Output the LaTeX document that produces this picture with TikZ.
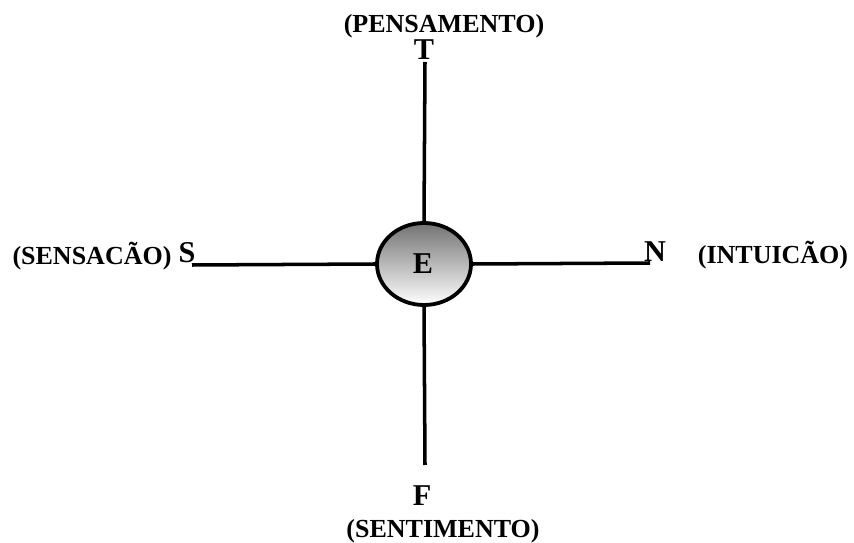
\documentclass[tikz,border=0pt]{standalone}
\usepackage{fontspec}
\setmainfont{Liberation Serif}
\usetikzlibrary{positioning, shapes.geometric}

\begin{document}
\begin{tikzpicture}[
    x=0.025cm, y=-0.025cm,
    ego/.style={
        ellipse, draw=black, line width=2.7pt,
        top color=black!55, bottom color=white,
        minimum width=2.35cm, minimum height=2.05cm,
        inner sep=0pt},
    pole/.style={
        anchor=base, inner sep=0pt, font=\fontsize{21.5}{23}\selectfont\bfseries},
    fname/.style={
        anchor=base, inner sep=0pt, font=\fontsize{18.5}{20}\selectfont\bfseries},
    axis/.style={line width=2.5pt}
]

%% ── Frame ───────────────────────────────────────────────────────
\useasboundingbox (0,0) rectangle (854,543);

%% ── Centre (ego) ────────────────────────────────────────────────
\node[ego] (e) at (424,264) {};
\node[pole] (elab) at (423,274) {E};

%% ── Pole letters ────────────────────────────────────────────────
\node[pole] (t) at (424,60)  {T};
\node[pole] (f) at (422,505) {F};
\node[pole] (s) at (187,263) {S};
\node[pole] (n) at (655,262) {N};

%% ── Function names ──────────────────────────────────────────────
\node[fname] (think) at (444,33)  {(PENSAMENTO)};
\node[fname] (feel)  at (443,537) {(SENTIMENTO)};
\node[fname] (sens)  at (92,265)  {(SENSACÃO)};
\node[fname] (intu)  at (773,264) {(INTUICÃO)};

%% ── Axis ends ───────────────────────────────────────────────────
\coordinate (tend) at (425,62);
\coordinate (fend) at (425,465);
\coordinate (send) at (192,265);
\coordinate (nend) at (650,263);

%% ── Axes ────────────────────────────────────────────────────────
\draw[axis] (e.north) -- (tend);
\draw[axis] (e.south) -- (fend);
\draw[axis] (e.west)  -- (send);
\draw[axis] (e.east)  -- (nend);

\end{tikzpicture}
\end{document}
